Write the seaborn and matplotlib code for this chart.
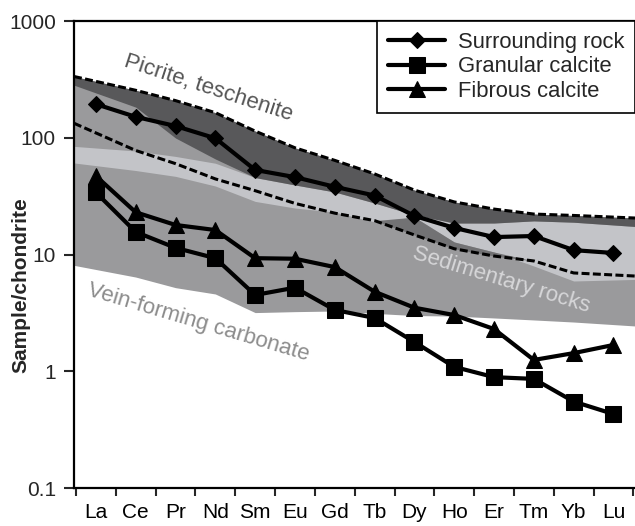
import numpy as np
import pandas as pd
import matplotlib
matplotlib.use("Agg")
import matplotlib.pyplot as plt
import seaborn as sns

# REE elements (chondrite-normalised pattern)
elements = ["La", "Ce", "Pr", "Nd", "Sm", "Eu", "Gd", "Tb", "Dy", "Ho", "Er", "Tm", "Yb", "Lu"]

surrounding_rock = [194, 151, 126, 99, 53, 46, 38, 32, 21.4, 16.9, 14.1, 14.4, 10.9, 10.3]
granular_calcite = [34, 15.6, 11.4, 9.3, 4.5, 5.2, 3.35, 2.86, 1.78, 1.09, 0.89, 0.86, 0.55, 0.43]
fibrous_calcite = [47, 23, 17.9, 16.2, 9.3, 9.2, 7.8, 4.8, 3.5, 3.03, 2.3, 1.25, 1.43, 1.68]

# reference fields
picrite_upper = [304, 255, 208, 164, 114, 82, 64, 49, 35.6, 28.2, 24.5, 22.2, 21.6, 20.9]
picrite_lower = [242, 183, 99.5, 65.8, 45.6, 39.4, 34.3, 27.6, 21.8, 18.6, 18.6, 19.4, 18.9, 17.9]
sed_dashed = [110, 77.8, 60, 44.4, 35.2, 27.4, 22.6, 19.5, 14.7, 11.2, 9.7, 8.8, 6.95, 6.68]
light_upper = [81.7, 77, 69.2, 60.5, 45.6, 39.4, 34.3, 27.6, 21.8, 18.6, 18.6, 19.4, 18.9, 17.9]
light_lower = [57.7, 52.4, 46.7, 38.6, 28.5, 25.0, 23.1, 19.0, 20.9, 12.8, 10.5, 7.97, 5.93, 6.05]
vein_lower = [7.44, 6.41, 5.2, 4.59, 3.18, 3.24, 3.28, 3.13, 3.0, 2.97, 2.86, 2.75, 2.64, 2.51]
wedge_elements = ["Tb", "Dy", "Ho", "Er", "Tm"]
wedge_upper = [19.5, 20.9, 12.8, 10.5, 8.8]
wedge_lower = [19.5, 14.7, 11.2, 9.7, 8.8]

yticks = [0.1, 1, 10, 100, 1000]
ytick_labels = ["0.1", "1", "10", "100", "1000"]

sns.set_style("ticks")
plt.rcParams["font.family"] = ["Liberation Sans", "DejaVu Sans"]

pos = np.arange(len(elements))
x_left, x_right = -0.55, 13.54


def extend(vals):
    # carry a field boundary out to the plot edges (log-linear)
    lv = np.log10(vals)
    left = lv[0] - (0 - x_left) * (lv[1] - lv[0])
    right = lv[-1] + (x_right - pos[-1]) * (lv[-1] - lv[-2])
    return 10 ** np.r_[left, lv, right]


xe = np.r_[x_left, pos, x_right]

fig = plt.figure(figsize=(6.35, 5.26), dpi=100)
ax = fig.add_axes([74 / 635, 38 / 526, 561 / 635, 467 / 526])

ax.fill_between(xe, extend(picrite_upper), extend(vein_lower), color="#9a9a9c", lw=0, zorder=1)
ax.fill_between(xe, extend(light_upper), extend(light_lower), color="#c3c4c8", lw=0, zorder=2)
wpos = [elements.index(e) for e in wedge_elements]
ax.fill_between(wpos, wedge_upper, wedge_lower, color="#727274", lw=0, zorder=3)
ax.fill_between(xe, extend(picrite_upper), extend(picrite_lower), color="#58585a", lw=0, zorder=4)

ax.plot(xe, extend(picrite_upper), color="black", lw=2.2, ls=(0, (2.6, 1.1)), zorder=5)
ax.plot(xe, extend(sed_dashed), color="black", lw=2.2, ls=(0, (2.6, 1.1)), zorder=5)

df = pd.DataFrame({
    "pos": np.tile(pos, 3),
    "value": surrounding_rock + granular_calcite + fibrous_calcite,
    "sample": ["Surrounding rock"] * 14 + ["Granular calcite"] * 14 + ["Fibrous calcite"] * 14,
})
styles = {
    "Surrounding rock": ("D", 8),
    "Granular calcite": ("s", 11),
    "Fibrous calcite": ("^", 12),
}
for name, (mk, ms) in styles.items():
    sns.lineplot(data=df[df["sample"] == name], x="pos", y="value", ax=ax,
                 color="black", lw=3, marker=mk, markersize=ms,
                 markeredgecolor="black", label=name, zorder=6)

ax.set_yscale("log")
ax.set_ylim(0.1, 1000)
ax.set_xlim(x_left, x_right)
ax.set_yticks(yticks)
ax.set_yticklabels(ytick_labels)
ax.yaxis.set_minor_locator(matplotlib.ticker.NullLocator())
ax.set_xticks(pos)
ax.set_xticklabels(elements)
ax.set_xticks(np.arange(len(elements) + 1) - 0.5, minor=True)
ax.tick_params(axis="x", which="major", length=0, pad=11, labelsize=15, colors="black")
ax.tick_params(axis="x", which="minor", length=6, width=1.5, direction="out")
ax.tick_params(axis="y", which="major", length=7, width=1.5, pad=6, labelsize=15)
ax.set_xlabel("")
ax.set_ylabel("Sample/chondrite", fontsize=15, fontweight="bold")
ax.yaxis.set_label_coords(-0.078, 0.434)

for side in ["left", "bottom", "top"]:
    ax.spines[side].set_linewidth(1.6)
    ax.spines[side].set_color("black")
    ax.spines[side].set_zorder(10)
ax.spines["right"].set_visible(False)

ax.text(2.82, 267, "Picrite, teschenite", fontsize=16, color="#555555",
        rotation=-18, ha="center", va="center", zorder=7)
ax.text(10.18, 6.05, "Sedimentary rocks", fontsize=16, color="#d6d6d8",
        rotation=-17, ha="center", va="center", zorder=7)
ax.text(2.57, 2.59, "Vein-forming carbonate", fontsize=16, color="#8c8c8c",
        rotation=-16.5, ha="center", va="center", zorder=7)

leg = ax.legend(loc="upper right", bbox_to_anchor=(1.0, 1.0), borderaxespad=0,
                fontsize=15.8, frameon=True, fancybox=False, framealpha=1,
                edgecolor="black", handlelength=2.6, handletextpad=0.55,
                labelspacing=0.15, borderpad=0.5)
leg.get_frame().set_linewidth(1.2)
leg.set_zorder(11)

fig.savefig("out.png", dpi=100)
